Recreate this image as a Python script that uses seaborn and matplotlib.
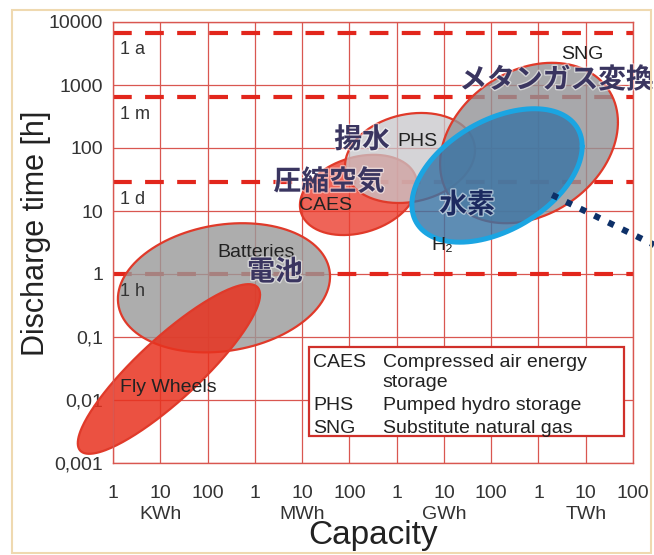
import numpy as np
import seaborn as sns
import matplotlib.pyplot as plt
import matplotlib.patheffects as PathEffects
from matplotlib.patches import Rectangle

# storage technologies: capacity range [kWh], discharge time range [h]
tech = ['Batteries', 'Fly Wheels', 'CAES', 'PHS', 'SNG', 'H2']
cap_lo = [1.27, 0.18, 9.0e3, 8.1e4, 8.3e6, 2.1e6]
cap_hi = [3.9e4, 1.29e3, 2.7e6, 4.55e7, 4.8e10, 8.4e9]
hours_lo = [0.057, 0.0014, 4.15, 13.4, 6.4, 3.2]
hours_hi = [6.4, 0.69, 78, 360, 2250, 420]
spread = [80, 29, 75, 80, 75, 64]  # deg, 90 = no tilt, small = thin diagonal

# time marks (year, month, day, hour)
mark_hours = [6800, 650, 29, 1]
mark_text = ['1 a', '1 m', '1 d', '1 h']

xtick_vals = [10.0**k for k in range(12)]
xtick_text = ['1', '10\nKWh', '100', '1', '10\nMWh', '100',
              '1', '10\nGWh', '100', '1', '10\nTWh', '100']
ytick_vals = [10.0**k for k in range(-3, 5)]
ytick_text = ['0,001', '0,01', '0,1', '1', '10', '100', '1000', '10000']

legend_abbr = ['CAES', '', 'PHS', 'SNG']
legend_desc = ['Compressed air energy', 'storage', 'Pumped hydro storage', 'Substitute natural gas']

link_cap = [1.95e9, 2.8e11]
link_hours = [18, 2.9]

sns.set_theme(style='white')
plt.rcParams['font.family'] = ['Liberation Sans', 'Noto Sans CJK JP', 'DejaVu Sans']

fig = plt.figure(figsize=(6.54, 5.55), dpi=100)
ax = fig.add_axes([113/654, 92/555, 520/654, 441/555])
ax.set_xscale('log')
ax.set_yscale('log')
ax.set_xlim(1, 1e11)
ax.set_ylim(1e-3, 1e4)

red = '#d95750'
ax.grid(True, which='major', color=red, lw=0.9)
ax.minorticks_off()
for s in ax.spines.values():
    s.set_color(red)
    s.set_linewidth(1.0)

for h, lab in zip(mark_hours, mark_text):
    ax.axhline(h, color='#e2261c', lw=3, dashes=(4.5, 3.2), zorder=1.5)
    ax.annotate(lab, (1, h), xytext=(5, -12.5), textcoords='offset points',
                ha='left', va='center', fontsize=13, color='#333333', zorder=4)

faces = {'Batteries': ('#999999', 0.8), 'Fly Wheels': ('#e8321f', 0.85), 'CAES': ('#ec3d2e', 0.8),
         'PHS': ('#c8c6ca', 0.75), 'SNG': ('#929296', 0.8), 'H2': ('#3a74a4', 0.82)}
t = np.linspace(0, 2*np.pi, 240)
for i, name in enumerate(tech):
    lx = np.log10([cap_lo[i], cap_hi[i]])
    ly = np.log10([hours_lo[i], hours_hi[i]])
    cx, hx = lx.mean(), (lx[1]-lx[0])/2
    cy, hy = ly.mean(), (ly[1]-ly[0])/2
    x = 10**(cx + hx*np.cos(t))
    y = 10**(cy + hy*np.cos(t - np.radians(spread[i])))
    fc, a = faces[name]
    ax.fill(x, y, color=fc, alpha=a, lw=0, zorder=2+i*0.1, clip_on=False)
    if name == 'H2':
        ec, lw = '#1ba5e2', 3.6
    else:
        ec, lw = '#e03a2a', 1.6
    sns.lineplot(x=x, y=y, sort=False, estimator=None, color=ec, lw=lw,
                 ax=ax, zorder=2.05+i*0.1, clip_on=False)

ax.plot(link_cap, link_hours, color='#0d3068', lw=4.5, dashes=(1, 1.5),
        dash_capstyle='butt', clip_on=False, zorder=3)

small = dict(fontsize=14, color='#222222', va='center', zorder=4)
ax.text(1.41, 0.0159, 'Fly Wheels', ha='left', **small)
ax.text(1087, 2.23, 'Batteries', ha='center', **small)
ax.text(32000, 12.4, 'CAES', ha='center', **small)
ax.text(2.7e6, 125, 'PHS', ha='center', **small)
ax.text(8.3e9, 3000, 'SNG', ha='center', **small)
ax.text(9.1e6, 2.88, 'H₂', ha='center', **small)

halo = [PathEffects.withStroke(linewidth=2, foreground='white', alpha=0.5)]
big = dict(fontsize=20, fontweight='bold', va='center', ha='center', zorder=5,
           family=['Noto Sans CJK JP'], path_effects=halo)
ax.text(2673, 1.07, '電池', color='#3a3560', **big)
ax.text(37150, 28.9, '圧縮空気', color='#3a3560', **big)
ax.text(185000, 135, '揚水', color='#3a3560', **big)
ax.text(2.4e9, 1200, 'メタンガス変換', color='#3a3560', **big)
ax.text(3.09e7, 12.4, '水素', color='#1c2a60', **big)

# legend box
ax.add_patch(Rectangle((0.377, 0.061), 0.606, 0.202, transform=ax.transAxes,
                       facecolor='white', edgecolor='#d0302a', lw=1.6, zorder=6))
row_y = [0.228, 0.182, 0.130, 0.078]
for yy, ab, de in zip(row_y, legend_abbr, legend_desc):
    ax.text(0.385, yy, ab, transform=ax.transAxes, fontsize=14, color='#222222',
            va='center', ha='left', zorder=7)
    ax.text(0.519, yy, de, transform=ax.transAxes, fontsize=14, color='#222222',
            va='center', ha='left', zorder=7)

ax.set_xticks(xtick_vals)
ax.set_xticklabels(xtick_text, fontsize=14, color='#333333', linespacing=1.3)
ax.set_yticks(ytick_vals)
ax.set_yticklabels(ytick_text, fontsize=14, color='#333333')
ax.tick_params(axis='x', length=0, pad=16)
ax.tick_params(axis='y', length=0, pad=7)

ax.set_xlabel('Capacity', fontsize=24, color='#222222')
ax.xaxis.set_label_coords(0.5, -0.13)
ax.set_ylabel('Discharge time [h]', fontsize=22, color='#222222')
ax.yaxis.set_label_coords(-0.12, 0.52)

fig.patches.append(Rectangle((12/654, 2/555), 639/654, 543/555, transform=fig.transFigure,
                             fill=False, edgecolor='#efd9b0', lw=1.5))

fig.savefig('out.png', dpi=100)
